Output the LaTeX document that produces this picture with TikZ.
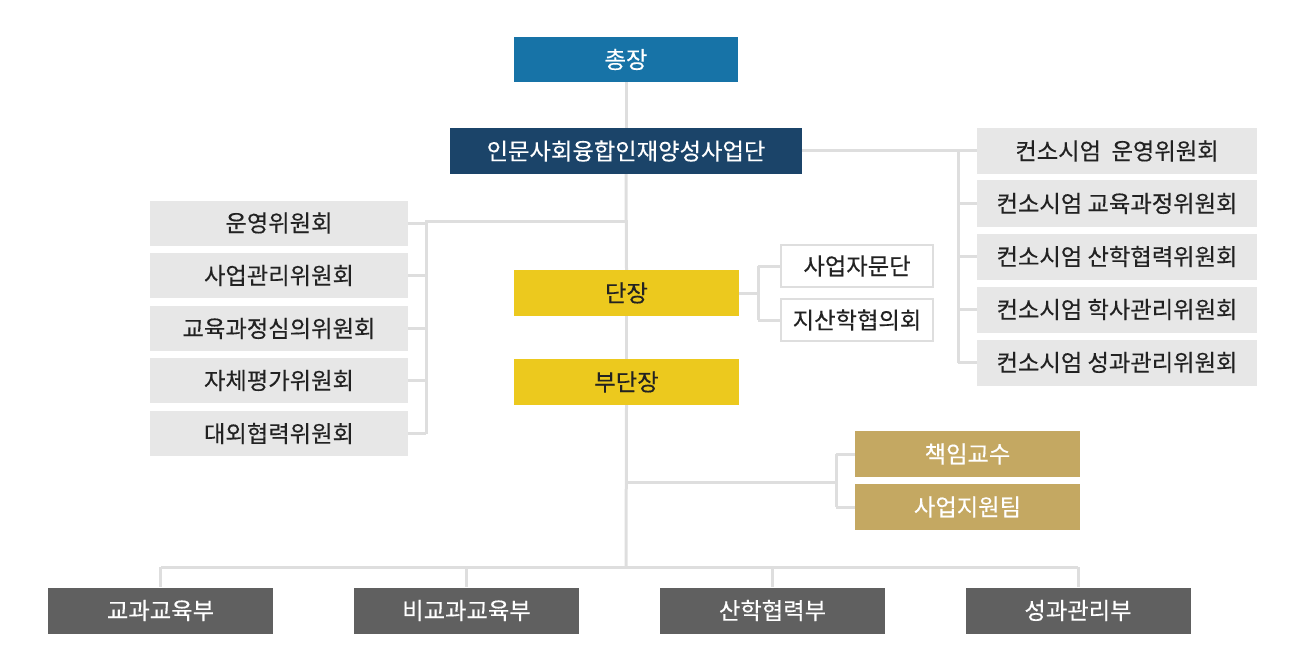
\documentclass[tikz,border=0pt]{standalone}
\usepackage{fontspec}
\newfontfamily\kr[FakeBold=0.3]{Noto Sans CJK KR}
\definecolor{cblue}{HTML}{1773A7}
\definecolor{cnavy}{HTML}{1B4469}
\definecolor{cyel}{HTML}{ECC91E}
\definecolor{cgold}{HTML}{C4A862}
\definecolor{clight}{HTML}{E7E7E7}
\definecolor{cdark}{HTML}{606060}
\definecolor{cline}{HTML}{DEDEDE}
\definecolor{ctext}{HTML}{222222}
\begin{document}
\begin{tikzpicture}[x=1pt,y=-1pt,
  base/.style={minimum height=46pt, inner sep=0pt, font=\kr\fontsize{23.3}{27}\selectfont, anchor=center},
  topbox/.style={base, fill=cblue, text=white, minimum width=224pt, minimum height=45pt},
  navybox/.style={base, fill=cnavy, text=white, minimum width=352pt},
  combox/.style={base, fill=clight, text=ctext, minimum width=258pt, minimum height=45pt},
  yelbox/.style={base, fill=cyel, text=ctext, minimum width=225pt},
  advbox/.style={base, fill=white, draw=cline, line width=2pt, text=ctext, minimum width=152pt, minimum height=42pt},
  consbox/.style={base, fill=clight, text=ctext, minimum width=280pt},
  goldbox/.style={base, fill=cgold, text=white, minimum width=225pt},
  deptbox/.style={base, fill=cdark, text=white, minimum width=225pt},
  conn/.style={draw=cline, line width=3pt}
]
\useasboundingbox (0,0) rectangle (1300,671);

\coordinate (mbot) at (626,567);
\coordinate (lj) at (626,221);
\coordinate (lv1) at (426,221);
\coordinate (lv5) at (426,433.5);
\coordinate (av1) at (758,266);
\coordinate (av2) at (758,320);
\coordinate (adj) at (758,293);
\coordinate (cv1) at (958,151);
\coordinate (cv5) at (958,362.5);
\coordinate (gj) at (626,482);
\coordinate (gv) at (836,482);
\coordinate (gv1) at (836,454);
\coordinate (gv2) at (836,507);
\coordinate (bl) at (160.5,567);
\coordinate (br) at (1078,567);

\node[topbox] (chong) at (626,59.5) {총장};
\node[navybox] (sadan) at (626,151) {인문사회융합인재양성사업단};

\node[combox] (L1) at (279,223) {운영위원회};
\node[combox] (L2) at (279,275.5) {사업관리위원회};
\node[combox] (L3) at (279,328.5) {교육과정심의위원회};
\node[combox] (L4) at (279,380.5) {자체평가위원회};
\node[combox] (L5) at (279,433.5) {대외협력위원회};

\node[yelbox] (dan) at (626.5,293) {단장};
\node[yelbox] (budan) at (626.5,382) {부단장};

\node[advbox] (A1) at (857,266) {사업자문단};
\node[advbox] (A2) at (857,320) {지산학협의회};

\node[consbox] (C1) at (1117,151) {컨소시엄\ \ 운영위원회};
\node[consbox] (C2) at (1117,203.5) {컨소시엄 교육과정위원회};
\node[consbox] (C3) at (1117,256.5) {컨소시엄 산학협력위원회};
\node[consbox] (C4) at (1117,309.5) {컨소시엄 학사관리위원회};
\node[consbox] (C5) at (1117,362.5) {컨소시엄 성과관리위원회};

\node[goldbox] (G1) at (967.5,454) {책임교수};
\node[goldbox] (G2) at (967.5,507) {사업지원팀};

\node[deptbox] (D1) at (160.5,610.5) {교과교육부};
\node[deptbox] (D2) at (466.5,610.5) {비교과교육부};
\node[deptbox] (D3) at (772.5,610.5) {산학협력부};
\node[deptbox] (D4) at (1078,610.5) {성과관리부};

% main spine
\path[conn] (chong.south) -- (sadan.north);
\path[conn] (sadan.south) -- (dan.north);
\path[conn] (dan.south) -- (budan.north);
\path[conn] (budan.south) -- (mbot);

% left committees
\path[conn] (lj) -- (lv1) -- (lv5);
\foreach \i in {1,...,5} { \path[conn] (L\i.east) -- (L\i.east -| lv1); }

% advisors
\path[conn] (dan.east) -- (adj);
\path[conn] (av1) -- (av2);
\path[conn] (av1) -- (A1.west);
\path[conn] (av2) -- (A2.west);

% consortium
\path[conn] (sadan.east) -- (C1.west);
\path[conn] (cv1) -- (cv5);
\foreach \i in {2,...,5} { \path[conn] (C\i.west -| cv1) -- (C\i.west); }

% gold
\path[conn] (gj) -- (gv);
\path[conn] (gv1) -- (gv2);
\path[conn] (gv1) -- (G1.west);
\path[conn] (gv2) -- (G2.west);

% bottom
\path[conn] (bl) -- (br);
\foreach \i in {1,...,4} { \path[conn] (D\i.north |- bl) -- (D\i.north); }
\end{tikzpicture}
\end{document}
